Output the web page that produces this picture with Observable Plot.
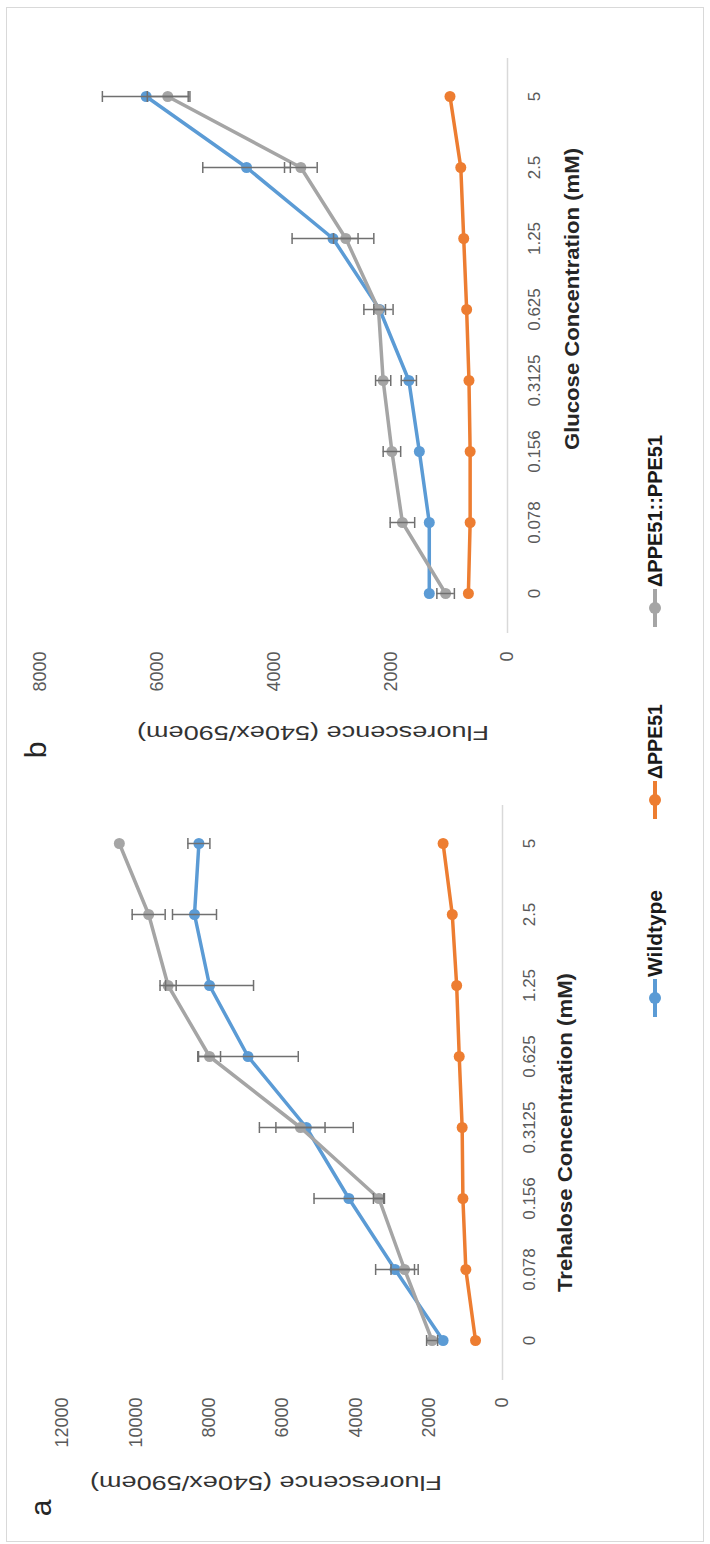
<!DOCTYPE html>
<html>
<head>
<meta charset="utf-8">
<script src="https://cdn.jsdelivr.net/npm/d3@7"></script>
<script src="https://cdn.jsdelivr.net/npm/@observablehq/plot@0.6"></script>
<style>
  html, body { margin: 0; padding: 0; background: #fff; overflow: hidden; width: 710px; height: 1544px; }
  #fig { position: absolute; left: 0; top: 0; width: 1544px; height: 710px; background: #fff;
         transform-origin: 0 0; transform: translate(0px, 1544px) rotate(-90deg);
         font-family: "Liberation Sans", Arial, sans-serif; }
  #frame { position: absolute; left: 2px; top: 6px; width: 1535px; height: 698px;
           border: 1.5px solid #d9d9d9; box-sizing: border-box; }
  .panel { position: absolute; top: 0; }
  #legend { position: absolute; left: 0; top: 0; }
</style>
</head>
<body>
<div id="fig">
  <div id="frame"></div>
  <div id="pa" class="panel" style="left:0px"></div>
  <div id="pb" class="panel" style="left:772px"></div>
  <svg id="legend" width="1544" height="710"></svg>
</div>
<script>
// ---------- data ----------
const categories = ["0", "0.078", "0.156", "0.3125", "0.625", "1.25", "2.5", "5"];
const seriesNames = ["Wildtype", "ΔPPE51", "ΔPPE51::PPE51"];
const seriesColors = ["#5b9bd5", "#ed7d31", "#a5a5a5"];

// panel a: trehalose
const trehaloseWildtype = [1620, 2930, 4190, 5350, 6940, 7990, 8400, 8280];
const trehaloseWildtypeErr = [0, 530, 950, 1280, 1370, 1200, 600, 300];
const trehaloseDelta = [736, 1000, 1080, 1100, 1180, 1250, 1370, 1620];
const trehaloseDeltaErr = [0, 0, 0, 0, 0, 0, 0, 0];
const trehaloseComp = [1920, 2670, 3370, 5510, 7990, 9120, 9650, 10450];
const trehaloseCompErr = [150, 370, 150, 670, 300, 220, 450, 0];
const trehaloseTicks = [0, 2000, 4000, 6000, 8000, 10000, 12000];

// panel b: glucose
const glucoseWildtype = [1340, 1340, 1510, 1690, 2190, 2990, 4470, 6190];
const glucoseWildtypeErr = [0, 0, 0, 130, 100, 700, 750, 750];
const glucoseDelta = [670, 640, 640, 660, 700, 750, 800, 985];
const glucoseDeltaErr = [0, 0, 0, 0, 0, 0, 0, 0];
const glucoseComp = [1060, 1800, 1980, 2130, 2210, 2770, 3540, 5820];
const glucoseCompErr = [150, 210, 150, 130, 250, 210, 280, 350];
const glucoseTicks = [0, 2000, 4000, 6000, 8000];

const xTitleA = "Trehalose Concentration (mM)";
const xTitleB = "Glucose Concentration (mM)";
const yTitle = "Fluorescence (540ex/590em)";

// ---------- helpers ----------
function rowsFor(values, errs) {
  return seriesNames.flatMap((s, si) =>
    categories.map((c, i) => ({series: s, cat: c, value: values[si][i], err: errs[si][i]})));
}

const capSymbol = {
  draw(ctx, size) {
    const r = Math.sqrt(size / Math.PI);
    ctx.moveTo(-r, 0);
    ctx.lineTo(r, 0);
  }
};

function makePanel(rows, cfg) {
  const marks = [Plot.ruleY([0], {stroke: "#d9d9d9", strokeWidth: 1.5})];
  for (const s of seriesNames) {
    const d = rows.filter(r => r.series === s);
    marks.push(Plot.line(d, {x: "cat", y: "value", stroke: "series", strokeWidth: 3.5, strokeLinejoin: "round", strokeLinecap: "round"}));
    marks.push(Plot.dot(d, {x: "cat", y: "value", fill: "series", r: 5.5, stroke: "none"}));
  }
  const eb = rows.filter(r => r.err > 0);
  marks.push(Plot.ruleX(eb, {x: "cat", y1: r => r.value - r.err, y2: r => r.value + r.err, stroke: "#707070", strokeWidth: 1.5}));
  marks.push(Plot.dot(eb, {x: "cat", y: r => r.value - r.err, symbol: capSymbol, r: 5.5, fill: "none", stroke: "#707070", strokeWidth: 1.5}));
  marks.push(Plot.dot(eb, {x: "cat", y: r => r.value + r.err, symbol: capSymbol, r: 5.5, fill: "none", stroke: "#707070", strokeWidth: 1.5}));

  const svg = Plot.plot({
    width: 772,
    height: 710,
    marginLeft: cfg.marginLeft,
    marginRight: cfg.marginRight,
    marginTop: cfg.marginTop,
    marginBottom: cfg.marginBottom,
    style: {background: "transparent", fontSize: "17px", fontFamily: "'Liberation Sans', Arial, sans-serif", color: "#595959", overflow: "visible"},
    x: {type: "point", domain: categories, padding: 0.5, tickSize: 0, tickPadding: 20, label: null},
    y: {domain: [0, cfg.ymax], ticks: cfg.ticks, tickFormat: d => String(d), tickSize: 0, tickPadding: cfg.yPad, label: null},
    color: {domain: seriesNames, range: seriesColors},
    marks
  });

  const g = d3.select(svg);
  g.selectAll('[aria-label="y-axis tick label"]').attr("font-size", 18);
  g.append("text")
    .attr("x", cfg.xTitlePos[0]).attr("y", cfg.xTitlePos[1]).attr("dy", "0.35em")
    .attr("text-anchor", "middle").attr("font-weight", "bold").attr("font-size", 20)
    .attr("fill", "#262626")
    .attr("textLength", cfg.xTitleLen).attr("lengthAdjust", "spacingAndGlyphs")
    .text(cfg.xTitle);
  g.append("text")
    .attr("transform", `translate(${cfg.yTitlePos[0]},${cfg.yTitlePos[1]}) rotate(-90)`)
    .attr("dy", "0.35em").attr("text-anchor", "middle").attr("font-size", 20)
    .attr("fill", "#333333")
    .attr("textLength", 352).attr("lengthAdjust", "spacingAndGlyphs")
    .text(yTitle);
  g.append("text")
    .attr("x", cfg.letterPos[0]).attr("y", cfg.letterPos[1]).attr("dy", "0.35em")
    .attr("text-anchor", "middle").attr("font-size", 30).attr("fill", "#262626")
    .text(cfg.letter);
  return svg;
}

const rowsA = rowsFor([trehaloseWildtype, trehaloseDelta, trehaloseComp],
                      [trehaloseWildtypeErr, trehaloseDeltaErr, trehaloseCompErr]);
const rowsB = rowsFor([glucoseWildtype, glucoseDelta, glucoseComp],
                      [glucoseWildtypeErr, glucoseDeltaErr, glucoseCompErr]);

document.getElementById("pa").appendChild(makePanel(rowsA, {
  marginLeft: 164, marginRight: 33, marginTop: 62, marginBottom: 208,
  ymax: 12000, ticks: trehaloseTicks, yPad: 18,
  xTitle: xTitleA, xTitlePos: [411.5, 565], xTitleLen: 319,
  yTitlePos: [61, 266], letter: "a", letterPos: [36, 40]
}));
document.getElementById("pb").appendChild(makePanel(rowsB, {
  marginLeft: 139, marginRight: 58, marginTop: 40, marginBottom: 203,
  ymax: 8000, ticks: glucoseTicks, yPad: 19,
  xTitle: xTitleB, xTitlePos: [473, 572], xTitleLen: 302,
  yTitlePos: [39, 313], letter: "b", letterPos: [22, 35]
}));

// ---------- legend ----------
const legendItems = [
  {name: seriesNames[0], color: seriesColors[0], cx: 546, len: 87},
  {name: seriesNames[1], color: seriesColors[1], cx: 744, len: 75},
  {name: seriesNames[2], color: seriesColors[2], cx: 936, len: 152}
];
const lg = d3.select("#legend");
for (const it of legendItems) {
  lg.append("line").attr("x1", it.cx - 19).attr("x2", it.cx + 19).attr("y1", 655).attr("y2", 655)
    .attr("stroke", it.color).attr("stroke-width", 4);
  lg.append("circle").attr("cx", it.cx).attr("cy", 655).attr("r", 6).attr("fill", it.color);
  lg.append("text").attr("x", it.cx + 21).attr("y", 655).attr("dy", "0.35em")
    .attr("font-family", "'Liberation Sans Narrow', 'Arial Narrow', 'Liberation Sans', sans-serif")
    .attr("font-weight", "bold").attr("font-size", 21).attr("fill", "#1a1a1a")
    .attr("textLength", it.len).attr("lengthAdjust", "spacingAndGlyphs")
    .text(it.name);
}
</script>
</body>
</html>
